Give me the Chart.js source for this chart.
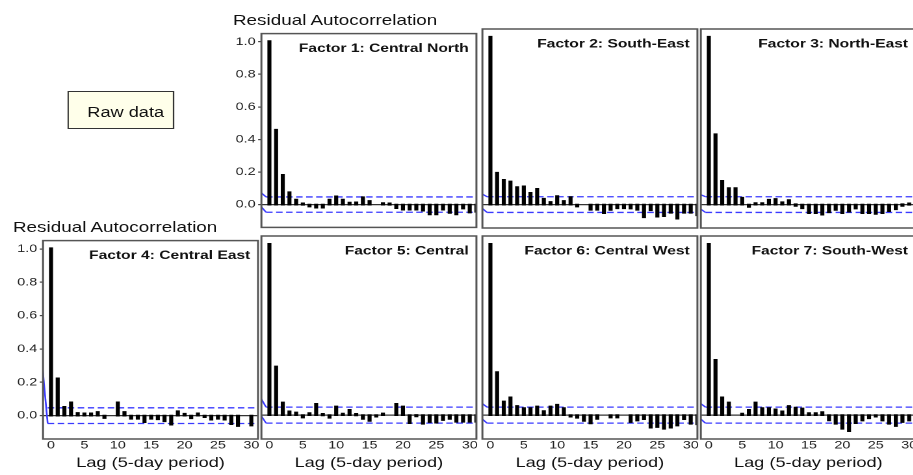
<!DOCTYPE html>
<html>
<head>
<meta charset="utf-8">
<script src="https://cdn.jsdelivr.net/npm/chart.js@4/dist/chart.umd.min.js"></script>
<style>
  html, body { margin: 0; padding: 0; background: #fff; overflow: hidden; }
  #stage {
    position: relative; height: 475px;
    transform-origin: 0 0;
    font-family: "Liberation Sans", Arial, sans-serif; color: #111;
  }
  .label { position: absolute; white-space: nowrap; line-height: 16px; }
  .rawbox {
    position: absolute; box-sizing: border-box;
    border: 1px solid #333; background: #ffffea;
  }
  .panel { position: absolute; }
</style>
</head>
<body>
<div id="stage"></div>
<script>
// ---- data -------------------------------------------------------------
const lags = [0,1,2,3,4,5,6,7,8,9,10,11,12,13,14,15,16,17,18,19,20,21,22,23,24,25,26,27,28,29,30,31];

const panelNames = [
  'Factor 1: Central North', 'Factor 2: South-East', 'Factor 3: North-East',
  'Factor 4: Central East', 'Factor 5: Central', 'Factor 6: Central West', 'Factor 7: South-West'
];

const factor1 = [1.0, 0.456, 0.179, 0.072, 0.027, 0.003, -0.008, -0.015, -0.015, 0.027, 0.047, 0.027, 0.008, 0.01, 0.041, 0.018,
                 null, 0.005, 0.003, -0.018, -0.027, -0.027, -0.027, -0.033, -0.056, -0.056, -0.027, -0.047, -0.056, -0.02, -0.045, -0.04];
const factor2 = [1.0, 0.187, 0.144, 0.134, 0.101, 0.105, 0.066, 0.09, 0.031, 0.012, 0.047, 0.018, 0.041, -0.008, null, -0.027,
                 -0.027, -0.047, -0.028, -0.018, -0.018, -0.02, -0.027, -0.072, -0.03, -0.068, -0.065, -0.045, -0.08, -0.045, -0.045, -0.06];
const factor3 = [1.0, 0.417, 0.138, 0.095, 0.095, 0.037, -0.01, 0.005, 0.005, 0.025, 0.03, 0.01, 0.023, -0.002, -0.018, -0.047,
                 -0.047, -0.056, -0.042, -0.028, -0.047, -0.038, -0.02, -0.047, -0.047, -0.052, -0.047, -0.035, -0.024, -0.002, 0.003, 0.0];
const factor4 = [1.0, 0.22, 0.049, 0.076, 0.012, 0.01, 0.01, 0.018, -0.01, null, 0.076, 0.018, -0.015, -0.015, -0.035, -0.015,
                 -0.018, -0.03, -0.05, 0.023, 0.008, -0.012, 0.01, -0.005, -0.02, -0.015, -0.02, -0.047, -0.058, null, -0.055, null];
const factor5 = [1.0, 0.281, 0.07, 0.018, 0.012, -0.01, 0.008, 0.062, 0.002, -0.012, 0.047, 0.005, 0.027, 0.002, -0.018, -0.03,
                 -0.005, 0.006, null, 0.062, 0.047, -0.043, -0.003, -0.047, -0.037, -0.04, -0.025, -0.018, -0.035, -0.035, -0.035, -0.035];
const factor6 = [1.0, 0.248, 0.076, 0.1, 0.05, 0.037, 0.037, 0.047, 0.02, 0.047, 0.057, 0.037, -0.005, -0.012, -0.03, -0.045,
                 -0.018, null, -0.01, -0.01, null, -0.037, -0.028, -0.02, -0.07, -0.066, -0.076, -0.07, -0.057, -0.02, -0.047, -0.05];
const factor7 = [1.0, 0.32, 0.1, 0.07, null, 0.005, 0.027, 0.07, 0.037, 0.037, 0.03, 0.018, 0.05, 0.04, 0.035, 0.008,
                 0.008, 0.014, -0.027, -0.047, -0.076, -0.09, -0.043, -0.028, -0.015, -0.005, -0.028, -0.047, -0.06, -0.037, -0.028, -0.03];

// confidence band level and where each band line enters from the left edge
const bandLevel = 0.047;
const bandUpperStart = [0.075, 0.065, 0.06, null, 0.10, 0.07, 0.07];
const bandLowerStart = [-0.01, -0.02, -0.025, 0.30, 0.0, -0.02, -0.02];

const yTickValues = [0, 0.2, 0.4, 0.6, 0.8, 1.0];
const xTickValues = [0, 5, 10, 15, 20, 25, 30];

const yTitle = 'Residual Autocorrelation';
const xTitle = 'Lag (5-day period)';
const rawLabel = 'Raw data';

// ---- layout (screen pixels; the figure is stretched horizontally by K) --
const K = 1.3;
const COLS = [43, 262, 482, 701];
const ROWS = [29, 236];
const FW = 215, FH = 203;
const LEFT_SPACE = 43;          // room reserved for y tick labels
const CANVAS_W = 212;           // canvas width before the stretch
const FONT = '"Liberation Sans", Arial, sans-serif';

const stage = document.getElementById('stage');
stage.style.width = (913 / K) + 'px';
stage.style.transform = 'scaleX(' + K + ')';

function addLabel(text, x, yCenter, size, extraCss) {
  const d = document.createElement('div');
  d.className = 'label';
  d.textContent = text;
  d.style.left = (x / K) + 'px';
  d.style.top = (yCenter - 8) + 'px';
  d.style.fontSize = size + 'px';
  if (extraCss) Object.assign(d.style, extraCss);
  stage.appendChild(d);
}

// axis titles above the y axes
addLabel(yTitle, 233, 20, 14.5);
addLabel(yTitle, 13, 227, 14.5);

// "Raw data" box
const box = document.createElement('div');
box.className = 'rawbox';
box.style.left = (67.7 / K) + 'px';
box.style.top = '90.7px';
box.style.width = ((174.7 - 67.7) / K) + 'px';
box.style.height = '38.6px';
const boxText = document.createElement('div');
boxText.className = 'label';
boxText.textContent = rawLabel;
boxText.style.left = ((87.3 - 67.7) / K - 1) + 'px';
boxText.style.top = (111.7 - 90.7 - 8 - 1) + 'px';
boxText.style.fontSize = '14px';
box.appendChild(boxText);
stage.appendChild(box);

// frame around each panel's plotting area
const framePlugin = {
  id: 'frame',
  afterDatasetsDraw(chart) {
    const { ctx, chartArea: a } = chart;
    ctx.save();
    ctx.strokeStyle = '#555';
    ctx.lineWidth = 1.5;
    ctx.strokeRect(a.left, a.top, a.right - a.left, a.bottom - a.top);
    ctx.restore();
  }
};

// panel name in the top-right corner of the plotting area
const panelTitlePlugin = {
  id: 'panelTitle',
  afterDraw(chart, args, opts) {
    const { ctx, chartArea: a } = chart;
    ctx.save();
    ctx.font = 'bold 12px ' + FONT;
    ctx.fillStyle = '#111';
    ctx.textAlign = 'right';
    ctx.textBaseline = 'middle';
    ctx.fillText(opts.text, a.right - 7.7 / K, a.top + 15);
    ctx.restore();
  }
};

const panels = [
  { values: factor1, row: 0, col: 1, yLabels: true },
  { values: factor2, row: 0, col: 2, yLabels: false },
  { values: factor3, row: 0, col: 3, yLabels: false },
  { values: factor4, row: 1, col: 0, yLabels: true },
  { values: factor5, row: 1, col: 1, yLabels: false },
  { values: factor6, row: 1, col: 2, yLabels: false },
  { values: factor7, row: 1, col: 3, yLabels: false }
];

panels.forEach((p, idx) => {
  const bottomRow = p.row === 1;
  const padTop = 4;
  const belowFrame = bottomRow ? 475 - (ROWS[1] + FH) : 4;
  const h = padTop + FH + belowFrame;

  const canvas = document.createElement('canvas');
  canvas.className = 'panel';
  canvas.width = CANVAS_W;
  canvas.height = h;
  canvas.style.width = CANVAS_W + 'px';
  canvas.style.height = h + 'px';
  canvas.style.left = ((COLS[p.col] - LEFT_SPACE) / K) + 'px';
  canvas.style.top = (ROWS[p.row] - padTop) + 'px';
  stage.appendChild(canvas);

  const bandStartX = -1.3, bandJoinX = -0.5, bandEndX = 31.5;
  const upper = [
    { x: bandStartX, y: bandUpperStart[idx] },
    { x: bandJoinX, y: bandLevel },
    { x: bandEndX, y: bandLevel }
  ];
  const lower = [
    { x: bandStartX, y: bandLowerStart[idx] },
    { x: bandJoinX, y: -bandLevel },
    { x: bandEndX, y: -bandLevel }
  ];
  const bandStyle = {
    type: 'line',
    borderColor: '#3a3aff',
    borderWidth: 1.3,
    pointRadius: 0,
    fill: false,
    tension: 0,
    clip: 0,
    order: 1,
    segment: { borderDash: ctx => (ctx.p0DataIndex === 0 ? [] : [5, 2.7]) }
  };

  new Chart(canvas, {
    type: 'bar',
    data: {
      datasets: [
        {
          type: 'bar',
          data: lags.map((x, i) => ({ x: x, y: p.values[i] })),
          backgroundColor: '#000',
          barThickness: 0.1,
          inflateAmount: 1.5,
          borderSkipped: false,
          borderWidth: 0,
          clip: 0,
          order: 0
        },
        Object.assign({ data: upper }, bandStyle),
        Object.assign({ data: lower }, bandStyle)
      ]
    },
    options: {
      responsive: false,
      devicePixelRatio: 2,
      animation: false,
      events: [],
      layout: {
        padding: {
          left: 0,
          top: padTop,
          right: CANVAS_W - LEFT_SPACE / K - FW / K,
          bottom: bottomRow ? 0 : belowFrame
        }
      },
      scales: {
        x: {
          type: 'linear',
          min: -1.2,
          max: 31.0,
          offset: false,
          display: bottomRow,
          afterFit: s => { s.height = belowFrame; },
          afterBuildTicks: s => { s.ticks = xTickValues.map(v => ({ value: v })); },
          grid: { display: false, drawTicks: false, offset: false },
          border: { display: false },
          ticks: {
            autoSkip: false, maxRotation: 0, padding: 0,
            color: '#222', font: { family: FONT, size: 11 },
            callback: v => String(v)
          },
          title: {
            display: true, text: xTitle, color: '#111',
            font: { family: FONT, size: 14 },
            padding: { top: 0, bottom: 3.6 }
          }
        },
        y: {
          type: 'linear',
          min: -0.14,
          max: 1.05,
          afterFit: s => { s.width = LEFT_SPACE / K; },
          afterBuildTicks: s => { s.ticks = yTickValues.map(v => ({ value: v })); },
          border: { display: false },
          grid: {
            drawTicks: p.yLabels,
            tickLength: 2.5,
            tickColor: '#444',
            lineWidth: 1.2,
            color: c => (c.tick && c.tick.value === 0 ? '#333' : 'rgba(0,0,0,0)')
          },
          ticks: {
            display: p.yLabels,
            padding: 2,
            color: '#222',
            font: { family: FONT, size: 11 },
            callback: v => Number(v).toFixed(1)
          }
        }
      },
      plugins: {
        legend: { display: false },
        tooltip: { enabled: false },
        panelTitle: { text: panelNames[idx] }
      }
    },
    plugins: [framePlugin, panelTitlePlugin]
  });
});
</script>
</body>
</html>
